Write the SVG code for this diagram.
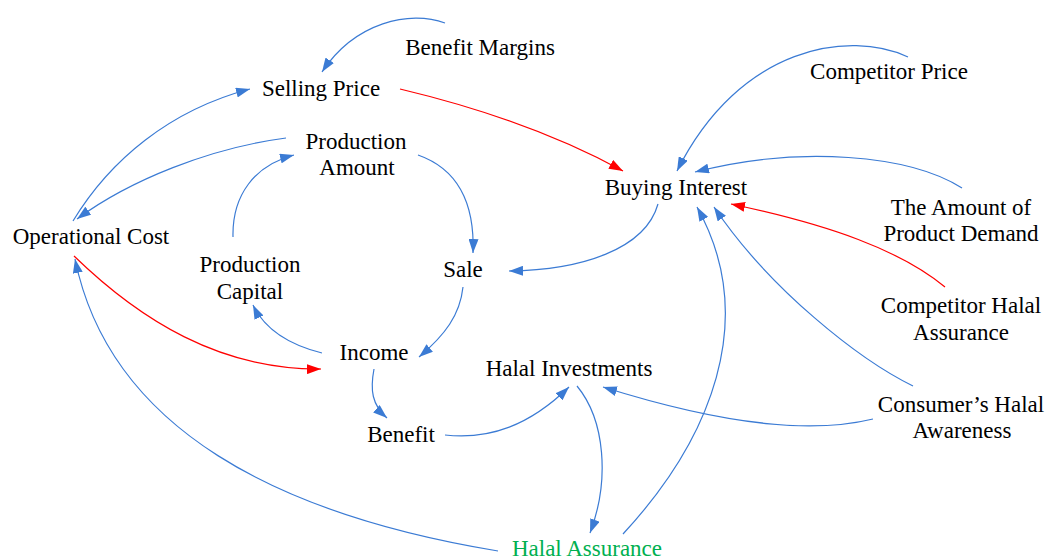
<svg xmlns="http://www.w3.org/2000/svg" width="1046" height="559" viewBox="0 0 1046 559">
<defs>
<marker id="ab" markerUnits="userSpaceOnUse" markerWidth="14" markerHeight="10" refX="14" refY="5" orient="auto"><path d="M0,0 L14,5 L0,10 z" fill="#3b7bd4"/></marker>
<marker id="ar" markerUnits="userSpaceOnUse" markerWidth="14" markerHeight="10" refX="14" refY="5" orient="auto"><path d="M0,0 L14,5 L0,10 z" fill="#ff0000"/></marker>
<style>
text{font-family:"Liberation Serif","Times New Roman",serif;font-size:23px;fill:#000;text-anchor:middle}
.g{fill:#00b050}
.b{fill:none;stroke:#3b7bd4;stroke-width:1.2;marker-end:url(#ab)}
.r{fill:none;stroke:#ff0000;stroke-width:1.2;marker-end:url(#ar)}
</style>
</defs>
<rect width="1046" height="559" fill="#fff"/>
<g id="connectors">
<path class="b" d="M445,23 C410,10 355,22 322,72"/>
<path class="b" d="M73,221 C110,160 170,110 250,89"/>
<path class="b" d="M286,138 C210,148 130,180 77,219"/>
<path class="b" d="M233,237 C232,195 255,165 294,155"/>
<path class="b" d="M418,155 C455,168 475,200 473,253"/>
<path class="r" d="M400,89 Q530,120 623,171"/>
<path class="b" d="M908,57 C850,30 740,45 677,171"/>
<path class="b" d="M962,188 C910,155 800,145 695,172"/>
<path class="b" d="M658,204 C645,250 580,270 509,271"/>
<path class="r" d="M945,287 C900,250 830,225 731,204"/>
<path class="b" d="M913,386 C860,360 770,290 714,207"/>
<path class="b" d="M623,534 C710,440 760,320 697,207"/>
<path class="b" d="M873,419 C820,432 740,430 603,387"/>
<path class="b" d="M577,386 C605,420 610,480 590,533"/>
<path class="b" d="M445,435 C490,440 530,425 569,387"/>
<path class="r" d="M74,256 C140,320 220,370 321,369"/>
<path class="b" d="M498,551 C280,515 110,430 75,259"/>
<path class="b" d="M322,353 C290,345 265,330 253,305"/>
<path class="b" d="M463,287 C460,315 445,335 419,357"/>
<path class="b" d="M374,369 C370,390 372,405 387,418"/>
</g>
<g id="benefit-margins"><text x="480" y="55">Benefit Margins</text></g>
<g id="selling-price"><text x="321" y="96">Selling Price</text></g>
<g id="production-amount"><text x="356" y="149">Production</text><text x="357" y="175">Amount</text></g>
<g id="operational-cost"><text x="91" y="244">Operational Cost</text></g>
<g id="production-capital"><text x="250" y="272">Production</text><text x="250" y="299">Capital</text></g>
<g id="sale"><text x="463" y="277">Sale</text></g>
<g id="income"><text x="374" y="360">Income</text></g>
<g id="benefit"><text x="401" y="442">Benefit</text></g>
<g id="halal-investments"><text x="569" y="376">Halal Investments</text></g>
<g id="halal-assurance"><text class="g" x="587" y="556">Halal Assurance</text></g>
<g id="buying-interest"><text x="676" y="195">Buying Interest</text></g>
<g id="competitor-price"><text x="889" y="79">Competitor Price</text></g>
<g id="product-demand"><text x="961" y="215">The Amount of</text><text x="961" y="241">Product Demand</text></g>
<g id="competitor-halal"><text x="961" y="313">Competitor Halal</text><text x="961" y="340">Assurance</text></g>
<g id="consumer-awareness"><text x="961" y="412">Consumer’s Halal</text><text x="962" y="438">Awareness</text></g>
</svg>
